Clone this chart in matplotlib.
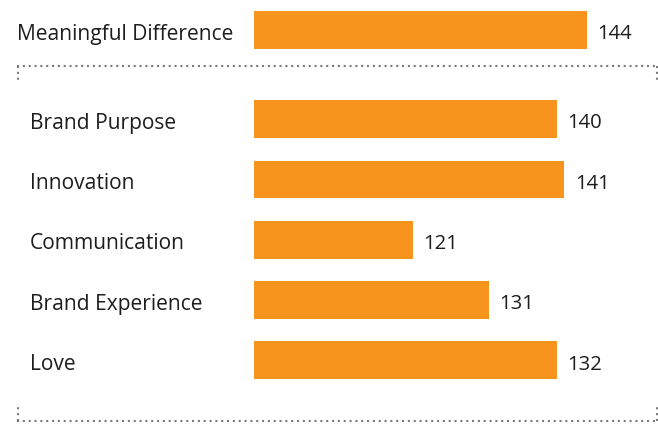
import matplotlib
matplotlib.use("Agg")
import matplotlib.pyplot as plt
from matplotlib.lines import Line2D
from matplotlib.transforms import blended_transform_factory

categories = ["Meaningful Difference", "Brand Purpose", "Innovation",
              "Communication", "Brand Experience", "Love"]
bar_values = [144, 140, 141, 121, 131, 140]
value_labels = ["144", "140", "141", "121", "131", "132"]

plt.rcParams['font.family'] = ['Open Sans', 'DejaVu Sans']
W, H = 658, 426
fig = plt.figure(figsize=(W / 100, H / 100), dpi=100)
ax = fig.add_axes([254 / W, 0, 1 - 254 / W, 1])

positions = [0] + [1.48 + i for i in range(len(categories) - 1)]
base = 100
ax.barh(positions, [v - base for v in bar_values], left=base, height=0.625,
        color="#F7941D", edgecolor="none")

ax.set_xlim(base, base + (W - 254) / 7.565)
ax.set_ylim(6.57, -0.494)
ax.axis("off")

trans = blended_transform_factory(fig.transFigure, ax.transData)
textcolor = "#1e1e1e"
for i, (cat, p) in enumerate(zip(categories, positions)):
    x = 17 / W if i == 0 else 30 / W
    ax.text(x, p + 0.03, cat, transform=trans, ha="left", va="center_baseline",
            fontsize=15.1, color=textcolor)
for v, lab, p in zip(bar_values, value_labels, positions):
    ax.text(v + 1.4, p + 0.03, lab, ha="left", va="center_baseline",
            fontsize=14.6, color=textcolor)

dot = dict(color="#7a7a7a", linewidth=1.5, linestyle=(0, (1, 1.8)),
           dash_capstyle="butt")
def fx(px):
    return px / W
def fy(py):
    return 1 - py / H
# top separator
fig.add_artist(Line2D([fx(17), fx(657)], [fy(65.5), fy(65.5)], **dot))
fig.add_artist(Line2D([fx(18), fx(18)], [fy(65.5), fy(80)], **dot))
fig.add_artist(Line2D([fx(656.5), fx(656.5)], [fy(65.5), fy(80)], **dot))
# bottom separator
fig.add_artist(Line2D([fx(17), fx(657)], [fy(420.5), fy(420.5)], **dot))
fig.add_artist(Line2D([fx(18), fx(18)], [fy(420.5), fy(407)], **dot))
fig.add_artist(Line2D([fx(656.5), fx(656.5)], [fy(420.5), fy(407)], **dot))

fig.savefig("out.png", dpi=100)
